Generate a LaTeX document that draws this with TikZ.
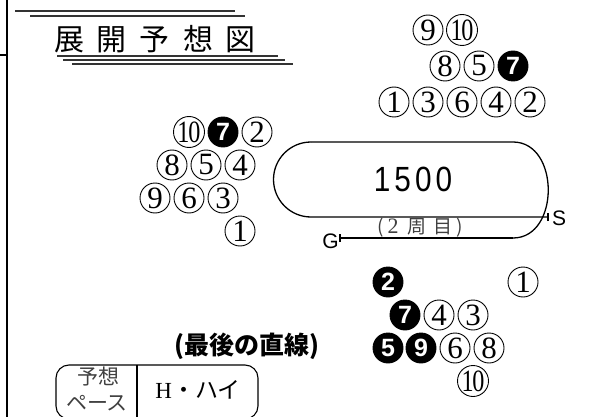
\documentclass[tikz,border=0pt]{standalone}
\usepackage{fontspec}
\setmainfont{Liberation Serif}
\newfontfamily\cjk{Noto Sans CJK JP}
\newfontfamily\lsans{Liberation Sans}
\usepackage{graphicx}
\begin{document}
\begin{tikzpicture}[x=1pt,y=-1pt,
  cn/.style={circle,draw,line width=0.9pt,minimum size=30pt,inner sep=0pt,font=\fontsize{31}{31}\selectfont},
  fc/.style={circle,draw,fill=black,line width=0.9pt,minimum size=30pt,inner sep=0pt,text=white,font=\lsans\bfseries\fontsize{25}{25}\selectfont},
  tline/.style={line width=1.2pt,black!80},
  track/.style={line width=1.3pt},
  frame/.style={line width=1.3pt},
  graytext/.style={text=black!75}]
\useasboundingbox (0,0) rectangle (610,417);
\newcommand{\ten}{\scalebox{0.78}[1]{1\kern-1.5pt0}}
% left frame
\draw[frame] (7,0) coordinate (fa) -- (7,417) coordinate (fb);
\draw[frame] (0,55) coordinate (fc) -- (7,55) coordinate (fd);
% title
\draw[tline] (15,11) -- (235,11);
\draw[tline] (30,16) -- (245,16);
\draw[tline] (57,56) -- (278,56);
\draw[tline] (63,60) -- (285,60);
\draw[tline] (72,64) -- (293,64);
\node[font=\cjk\fontsize{30}{30}\selectfont] (title) at (155,39) {展\kern13pt 開\kern13pt 予\kern13pt 想\kern13pt 図};
% top group
\node[cn] (a9) at (428,30) {9};
\node[cn] (a10) at (462,30) {\ten};
\node[cn] (a8) at (445,66) {8};
\node[cn] (a5) at (479,66) {5};
\node[fc] (a7) at (513,66) {7};
\node[cn] (a1) at (394,102) {1};
\node[cn] (a3) at (428,102) {3};
\node[cn] (a6) at (462,102) {6};
\node[cn] (a4) at (496,102) {4};
\node[cn] (a2) at (530,102) {2};
% left group
\node[cn] (b10) at (189,132) {\ten};
\node[fc] (b7) at (223,132) {7};
\node[cn] (b2) at (257,132) {2};
\node[cn] (b8) at (172,165) {8};
\node[cn] (b5) at (206,165) {5};
\node[cn] (b4) at (240,165) {4};
\node[cn] (b9) at (155,198) {9};
\node[cn] (b6) at (189,198) {6};
\node[cn] (b3) at (223,198) {3};
\node[cn] (b1) at (240,231) {1};
% track
\coordinate (sEnd) at (548,217);
\coordinate (gEnd) at (340,238);
\draw[track] (513,238) -- (gEnd);
\draw[track] (311,142) -- (513,142) .. controls (560,142) and (560,238) .. (513,238);
\draw[track] (311,142) .. controls (290.3,142) and (273.5,158.8) .. (273.5,179.5)
  .. controls (273.5,200.2) and (290.3,217) .. (311,217) -- (sEnd);
\draw[track] ([yshift=-4pt]sEnd) -- ([yshift=4pt]sEnd);
\draw[track] ([yshift=-4pt]gEnd) -- ([yshift=4pt]gEnd);
\node[font=\lsans\fontsize{21}{21}\selectfont,anchor=west,inner sep=0pt] (S) at (552,218) {S};
\node[font=\lsans\fontsize{21}{21}\selectfont,anchor=east,inner sep=0pt] (G) at (339,241) {G};
\node[font=\lsans\fontsize{35}{35}\selectfont] (dist) at (413,179) {\scalebox{0.85}[1]{1}\kern4pt\scalebox{0.85}[1]{5}\kern4pt\scalebox{0.85}[1]{0}\kern4pt\scalebox{0.85}[1]{0}};
\node[graytext,font=\cjk\fontsize{19}{19}\selectfont] (lap) at (420,228) {(\kern4pt{\rmfamily\fontsize{22}{22}\selectfont 2}\kern9pt 周\kern7pt 目\kern4pt)};
% bottom right group
\node[fc] (c2) at (388,282) {2};
\node[cn] (c1) at (523,282) {1};
\node[fc] (c7) at (405,315) {7};
\node[cn] (c4) at (439,315) {4};
\node[cn] (c3) at (473,315) {3};
\node[fc] (c5) at (388,348) {5};
\node[fc] (c9) at (421,348) {9};
\node[cn] (c6) at (455,348) {6};
\node[cn] (c8) at (489,348) {8};
\node[cn] (c10) at (473,381) {\ten};
% last straight
\node[font=\cjk\bfseries\fontsize{25}{25}\selectfont] (last) at (247,346) {(最後の直線)};
% pace box
\draw[line width=1.1pt,rounded corners=13pt] (56,365) rectangle (258,419);
\draw[line width=1.1pt] (137,365) coordinate (dv1) -- (137,419) coordinate (dv2);
\node[graytext,font=\cjk\fontsize{21}{21}\selectfont] (yoso) at (98,377) {予想};
\node[graytext,font=\cjk\fontsize{21}{21}\selectfont] (pace) at (97,403) {ペース};
\node[font=\cjk\fontsize{23}{23}\selectfont] (hi) at (198,390) {{\rmfamily H}・ハイ};
\end{tikzpicture}
\end{document}
